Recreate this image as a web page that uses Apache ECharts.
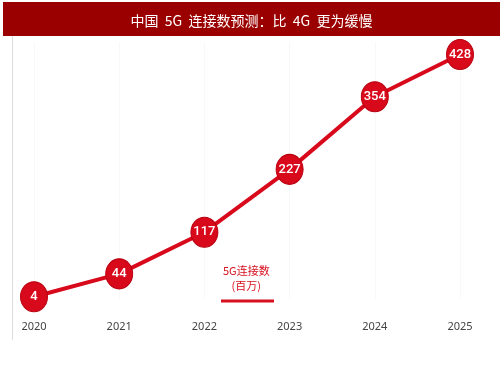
<!DOCTYPE html>
<html>
<head>
<meta charset="utf-8">
<script src="https://cdn.jsdelivr.net/npm/echarts@6/dist/echarts.min.js"></script>
<style>
  html, body { margin: 0; padding: 0; background: #fff; }
  #chart { width: 503px; height: 378px; }
</style>
</head>
<body>
<div id="chart"></div>
<script>
var years = ['2020', '2021', '2022', '2023', '2024', '2025'];
var connections = [4, 44, 117, 227, 354, 428];
var seriesName = '5G连接数\n(百万)';

var chart = echarts.init(document.getElementById('chart'));

var option = {
    backgroundColor: '#fff',
    title: {
        text: '中国  5G  连接数预测：比  4G  更为缓慢',
        left: 'center',
        top: 9,
        textStyle: {
            color: '#fff',
            fontSize: 14,
            fontWeight: 'normal',
            fontFamily: 'Noto Sans CJK SC'
        }
    },
    graphic: [
        {
            type: 'rect',
            z: -1,
            shape: {x: 3, y: 2, width: 497, height: 34},
            style: {fill: '#9b0000'}
        },
        {
            type: 'line',
            shape: {x1: 12.5, y1: 36, x2: 12.5, y2: 340},
            style: {stroke: '#dcdcdc', lineWidth: 1}
        },
        {
            type: 'text',
            left: 223,
            top: 263,
            style: {
                text: seriesName,
                fill: '#d7101f',
                font: '11px "Noto Sans CJK SC"',
                textAlign: 'center',
                lineHeight: 15
            }
        },
        {
            type: 'line',
            shape: {x1: 221, y1: 301, x2: 274, y2: 301},
            style: {stroke: '#d7101f', lineWidth: 3}
        }
    ],
    grid: {
        left: 34,
        right: 43,
        top: 42,
        bottom: 79
    },
    xAxis: {
        type: 'category',
        data: years,
        boundaryGap: false,
        axisLine: {show: false},
        axisTick: {show: false},
        axisLabel: {
            margin: 22,
            color: '#444',
            fontSize: 11,
            fontFamily: 'Noto Sans'
        },
        splitLine: {show: true, lineStyle: {color: '#f8f8f8'}}
    },
    yAxis: {
        type: 'value',
        min: 0,
        max: 450,
        show: false
    },
    series: [
        {
            name: seriesName,
            type: 'line',
            data: connections,
            symbol: 'circle',
            symbolSize: [27, 30],
            lineStyle: {color: '#d9091c', width: 4},
            itemStyle: {color: '#d9091c', borderColor: '#b8000f', borderWidth: 1},
            label: {
                show: true,
                position: 'inside',
                color: '#fff',
                fontSize: 13,
                fontWeight: 500,
                fontFamily: 'Roboto'
            }
        }
    ]
};

chart.setOption(option);
</script>
</body>
</html>
